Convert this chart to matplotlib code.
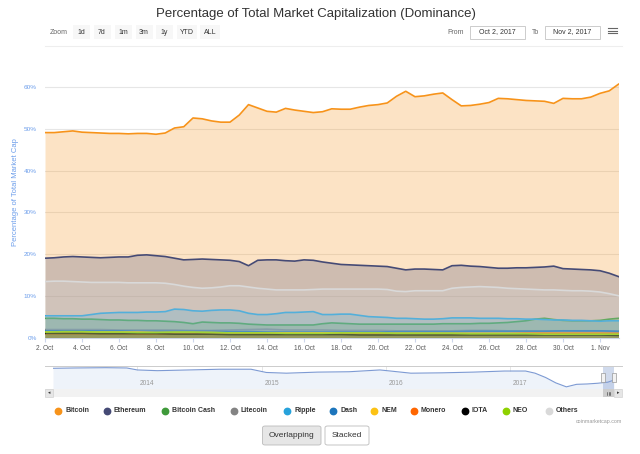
import numpy as np
import pandas as pd
import matplotlib
matplotlib.use('Agg')
import matplotlib.pyplot as plt
from matplotlib.patches import FancyBboxPatch, Rectangle
from matplotlib.lines import Line2D

plt.rcParams['font.family'] = ['Liberation Sans', 'DejaVu Sans']

# ---- data ----
half_day = pd.date_range('2017-10-02', '2017-11-02', freq='12h')
days = pd.date_range('2017-10-02', '2017-11-02', freq='D')

bitcoin = [49.1, 49.1, 49.3, 49.5, 49.2, 49.1, 49.0, 48.9, 48.9, 48.8, 48.9, 48.9, 48.7, 49.0,
           50.2, 50.5, 52.6, 52.4, 51.9, 51.6, 51.6, 53.3, 55.8, 55.0, 54.2, 54.0, 54.9, 54.5,
           54.2, 53.9, 54.1, 54.8, 54.7, 54.7, 55.2, 55.6, 55.8, 56.2, 57.8, 59.0, 57.7, 57.9,
           58.3, 58.6, 57.0, 55.5, 55.6, 55.9, 56.3, 57.3, 57.2, 57.0, 56.8, 56.7, 56.6, 56.1,
           57.3, 57.2, 57.2, 57.6, 58.5, 59.1, 60.7]
ethereum = [19.0, 19.1, 19.3, 19.4, 19.3, 19.2, 19.1, 19.2, 19.3, 19.3, 19.7, 19.8, 19.6, 19.4,
            19.0, 18.6, 18.7, 18.8, 18.7, 18.6, 18.5, 18.2, 17.2, 18.5, 18.6, 18.6, 18.4, 18.3,
            18.6, 18.5, 18.1, 17.8, 17.5, 17.4, 17.3, 17.2, 17.1, 17.0, 16.6, 16.2, 16.4, 16.4,
            16.3, 16.2, 17.2, 17.3, 17.1, 17.0, 16.8, 16.6, 16.6, 16.7, 16.7, 16.8, 16.9, 17.1,
            16.5, 16.4, 16.3, 16.2, 16.0, 15.4, 14.6]
others = [13.4, 13.5, 13.5, 13.4, 13.3, 13.2, 13.2, 13.2, 13.2, 13.1, 13.1, 13.1, 13.1, 13.0,
          12.7, 12.3, 12.0, 11.8, 11.9, 12.1, 12.4, 12.4, 12.1, 11.8, 11.6, 11.4, 11.4, 11.4,
          11.4, 11.5, 11.6, 11.6, 11.6, 11.6, 11.6, 11.6, 11.6, 11.5, 11.1, 11.0, 11.2, 11.2,
          11.2, 11.2, 11.8, 12.0, 12.1, 12.2, 12.1, 12.0, 11.8, 11.7, 11.6, 11.5, 11.4, 11.4,
          11.3, 11.2, 11.2, 11.1, 10.9, 10.5, 10.0]
ripple = [5.2, 5.2, 5.2, 5.2, 5.2, 5.5, 5.8, 5.9, 6.0, 6.0, 6.0, 6.1, 6.1, 6.2,
          6.8, 6.7, 6.4, 6.3, 6.5, 6.6, 6.6, 6.4, 5.8, 5.5, 5.5, 5.7, 6.0, 6.0,
          6.1, 6.2, 5.5, 5.5, 5.6, 5.6, 5.3, 5.0, 4.9, 4.8, 4.6, 4.6, 4.5, 4.4,
          4.4, 4.5, 4.7, 4.7, 4.7, 4.6, 4.6, 4.6, 4.5, 4.5, 4.4, 4.4, 4.3, 4.2,
          4.2, 4.1, 4.1, 4.0, 3.9, 4.0, 4.0]
bitcoin_cash = [4.6, 4.6, 4.5, 4.5, 4.4, 4.4, 4.3, 4.2, 4.2, 4.1, 4.1, 4.0, 4.0, 3.9,
                3.8, 3.6, 3.3, 3.7, 3.6, 3.5, 3.5, 3.4, 3.2, 3.1, 3.0, 3.0, 3.0, 3.0,
                3.0, 3.0, 3.3, 3.5, 3.4, 3.3, 3.2, 3.2, 3.2, 3.2, 3.2, 3.2, 3.2, 3.2,
                3.2, 3.3, 3.3, 3.3, 3.3, 3.4, 3.4, 3.5, 3.6, 3.8, 4.0, 4.4, 4.6, 4.3,
                4.1, 4.0, 4.0, 4.0, 4.1, 4.4, 4.6]
litecoin = [1.9, 1.9, 1.9, 1.9, 1.8, 1.8, 1.8, 1.8, 1.7, 1.7, 1.8, 1.9, 2.0, 1.8, 1.8, 1.8,
            1.7, 1.7, 1.7, 1.6, 1.6, 1.6, 1.6, 1.7, 1.7, 1.6, 1.6, 1.6, 1.6, 1.5, 1.5, 1.4]
dash = [1.6, 1.6, 1.6, 1.6, 1.6, 1.5, 1.5, 1.5, 1.5, 1.5, 1.4, 1.4, 1.3, 1.3, 1.3, 1.3,
        1.3, 1.3, 1.3, 1.4, 1.4, 1.4, 1.4, 1.5, 1.5, 1.5, 1.5, 1.5, 1.6, 1.6, 1.6, 1.5]
nem = [1.3, 1.3, 1.3, 1.3, 1.3, 1.3, 1.2, 1.2, 1.2, 1.2, 1.1, 1.1, 1.1, 1.1, 1.1, 1.1,
       1.1, 1.1, 1.0, 1.0, 1.0, 1.0, 1.0, 1.0, 1.0, 1.0, 1.0, 1.0, 1.0, 1.0, 1.0, 0.9]
monero = [0.9, 0.9, 0.9, 0.9, 0.9, 0.8, 0.8, 0.8, 0.8, 0.8, 0.8, 0.8, 0.8, 0.8, 0.8, 0.8,
          0.8, 0.9, 0.9, 0.9, 0.9, 0.9, 0.9, 0.9, 0.9, 0.9, 1.0, 1.0, 1.0, 1.0, 1.0, 1.0]
iota = [1.0, 1.0, 1.0, 0.9, 0.9, 0.9, 0.9, 0.8, 0.8, 0.8, 0.7, 0.7, 0.7, 0.7, 0.7, 0.7,
        0.7, 0.6, 0.6, 0.6, 0.6, 0.6, 0.6, 0.6, 0.6, 0.6, 0.6, 0.6, 0.6, 0.6, 0.6, 0.5]
neo = [1.3, 1.4, 1.4, 1.3, 1.3, 1.2, 1.2, 1.3, 1.3, 1.2, 1.1, 1.1, 1.1, 1.0, 1.0, 1.0,
       1.1, 1.1, 1.1, 1.0, 1.0, 1.0, 1.0, 0.9, 0.9, 0.9, 0.9, 0.8, 0.8, 0.8, 0.8, 0.8]

# navigator: bitcoin dominance, whole history
nav_dates = pd.to_datetime(['2013-04-28', '2013-07-01', '2013-10-01', '2013-12-01', '2014-01-01',
                            '2014-03-01', '2014-06-01', '2014-09-01', '2014-12-01', '2015-01-15',
                            '2015-03-15', '2015-06-15', '2015-09-15', '2015-12-15', '2016-01-15',
                            '2016-03-15', '2016-06-15', '2016-09-15', '2016-12-15', '2017-02-15',
                            '2017-03-15', '2017-04-15', '2017-05-15', '2017-06-15', '2017-07-15',
                            '2017-08-15', '2017-09-15', '2017-10-15', '2017-11-02'])
nav_values = [90.6, 91.5, 92.3, 91.5, 86, 84, 86, 88, 88, 79, 77, 80, 81, 86, 83, 77, 78, 80,
              83, 83, 77, 65, 50, 39, 46, 47, 49, 52, 58]

legend_names = ['Bitcoin', 'Ethereum', 'Bitcoin Cash', 'Litecoin', 'Ripple', 'Dash', 'NEM',
                'Monero', 'IOTA', 'NEO', 'Others']
legend_colors = ['#f7931a', '#454a75', '#3f9a3a', '#838383', '#27a2db', '#1c75bc', '#fcc214',
                 '#ff6600', '#000000', '#8ed100', '#d9d9d9']
zoom_buttons = ['1d', '7d', '1m', '3m', '1y', 'YTD', 'ALL']
year_ticks = pd.to_datetime(['2014-01-01', '2015-01-01', '2016-01-01', '2017-01-01'])

# ---- layout helpers (pixel -> figure fraction) ----
W, H = 640, 454


def fx(px):
    return px / W


def fy(py):
    return 1 - py / H


fig = plt.figure(figsize=(6.4, 4.54), dpi=100)

# ---- main chart ----
ax = fig.add_axes([fx(45), fy(337.5), fx(618.5) - fx(45), fy(75) - fy(337.5)])

series = [
    (half_day, bitcoin, legend_colors[0]),
    (half_day, ethereum, legend_colors[1]),
    (half_day, bitcoin_cash, legend_colors[2]),
    (days, litecoin, legend_colors[3]),
    (half_day, ripple, legend_colors[4]),
    (days, dash, legend_colors[5]),
    (days, nem, legend_colors[6]),
    (days, monero, legend_colors[7]),
    (days, iota, legend_colors[8]),
    (days, neo, legend_colors[9]),
    (half_day, others, legend_colors[10]),
]
for i, (t, vals, col) in enumerate(series):
    ax.fill_between(t, 0, vals, color=col, alpha=0.25, lw=0, zorder=2 + i)
    ax.plot(t, vals, color=col, lw=1.2, zorder=2 + i)

ax.set_xlim(days[0], days[-1])
ax.set_ylim(0, 62.9)
ax.set_yticks(range(0, 61, 10))
ax.set_yticklabels([f'{v}%' for v in range(0, 61, 10)])
xt = days[:-1:2]
ax.set_xticks(xt)
ax.set_xticklabels([f'{d.day}. {d.strftime("%b")}' for d in xt])
ax.grid(axis='y', color='#e6e6e6', lw=0.8, zorder=0)
for s in ['top', 'right', 'left']:
    ax.spines[s].set_visible(False)
ax.spines['bottom'].set_color('#ccd6eb')
ax.tick_params(axis='y', length=0, pad=6, labelsize=4.6, labelcolor='#6d9eeb')
ax.tick_params(axis='x', length=3, color='#ccd6eb', pad=2.5, labelsize=4.7, labelcolor='#555555')

fig.text(fx(16), fy(192), 'Percentage of Total Market Cap', rotation=90, ha='center', va='center',
         fontsize=5.5, color='#6d9eeb')

# ---- title and range selector ----
fig.text(fx(316), fy(14), 'Percentage of Total Market Capitalization (Dominance)', ha='center',
         va='center', fontsize=9.5, color='#333333')
fig.add_artist(Line2D([fx(45), fx(622)], [fy(45.5), fy(45.5)], color='#eeeeee', lw=0.8))

fig.text(fx(59), fy(32), 'Zoom', ha='center', va='center', fontsize=5, color='#666666')
btn_x = [81, 102, 123, 144, 164, 187, 210]
for lab, cx in zip(zoom_buttons, btn_x):
    w = 20 if len(lab) == 3 else 17
    fig.add_artist(Rectangle((fx(cx - w / 2), fy(39)), fx(w), fy(25) - fy(39),
                             facecolor='#f7f7f7', edgecolor='none', transform=fig.transFigure))
    fig.text(fx(cx), fy(32), lab, ha='center', va='center', fontsize=5, color='#333333')

fig.text(fx(456), fy(32), 'From', ha='center', va='center', fontsize=5, color='#666666')
fig.text(fx(536), fy(32), 'To', ha='center', va='center', fontsize=5, color='#666666')
for x0, x1, lab in [(470, 525, 'Oct 2, 2017'), (545, 600, 'Nov 2, 2017')]:
    fig.add_artist(Rectangle((fx(x0), fy(38.5)), fx(x1 - x0), fy(25.5) - fy(38.5),
                             facecolor='white', edgecolor='#cccccc', lw=0.7,
                             transform=fig.transFigure))
    fig.text(fx((x0 + x1) / 2), fy(32), lab, ha='center', va='center', fontsize=5,
             color='#333333')
for yy in [28, 30.5, 33]:
    fig.add_artist(Line2D([fx(608), fx(617)], [fy(yy), fy(yy)], color='#666666', lw=0.8))

# ---- navigator ----
nav = fig.add_axes([fx(53), fy(389), fx(614) - fx(53), fy(366) - fy(389)])
nav.fill_between(nav_dates, 33, nav_values, color='#eef3fa', lw=0)
nav.plot(nav_dates, nav_values, color='#7d9ad3', lw=0.8)
nav.set_xlim(nav_dates[0], nav_dates[-1])
nav.set_ylim(33, 97)
for yt in year_ticks:
    nav.axvline(yt, color='#e6e6e6', lw=0.7, zorder=0)
    nav.text(yt + pd.Timedelta(days=8), 48, str(yt.year), fontsize=4.8, color='#999999',
             va='center', ha='left')
nav.axvspan(days[0], days[-1], color='#6685c2', alpha=0.3, lw=0)
nav.axis('off')
fig.add_artist(Line2D([fx(45), fx(622)], [fy(366), fy(366)], color='#cccccc', lw=0.7))
for hx in [602.5, 613.5]:
    fig.add_artist(Rectangle((fx(hx - 2), fy(382)), fx(4), fy(373) - fy(382),
                             facecolor='#f2f2f2', edgecolor='#999999', lw=0.5,
                             transform=fig.transFigure))

# scrollbar
fig.add_artist(Rectangle((fx(45), fy(397)), fx(577), fy(389) - fy(397), facecolor='#f2f2f2',
                         edgecolor='none', transform=fig.transFigure))
for x0 in [45, 614]:
    fig.add_artist(Rectangle((fx(x0), fy(397)), fx(8), fy(389) - fy(397), facecolor='#e6e6e6',
                             edgecolor='#cccccc', lw=0.4, transform=fig.transFigure))
fig.text(fx(49), fy(393), '\u25c2', ha='center', va='center', fontsize=3.5, color='#333333')
fig.text(fx(618), fy(393), '\u25b8', ha='center', va='center', fontsize=3.5, color='#333333')
fig.add_artist(Rectangle((fx(603), fy(397)), fx(11), fy(389) - fy(397), facecolor='#cccccc',
                         edgecolor='none', transform=fig.transFigure))
for gx in [607, 608.5, 610]:
    fig.add_artist(Line2D([fx(gx), fx(gx)], [fy(391.5), fy(394.5)], color='#333333', lw=0.4))

# ---- legend ----
dot_x = [58.3, 106.7, 165.3, 233.8, 287.2, 333.1, 374.2, 413.5, 464.8, 505.8, 548.5]
for name, col, dx in zip(legend_names, legend_colors, dot_x):
    fig.add_artist(Line2D([fx(dx)], [fy(411)], marker='o', markersize=4.6, color=col, lw=0))
    fig.text(fx(dx + 7), fy(411), name, ha='left', va='center', fontsize=5, fontweight='bold',
             color='#333333')
fig.text(fx(622), fy(421), 'coinmarketcap.com', ha='right', va='center', fontsize=3.8,
         color='#999999')

# ---- mode buttons ----
for x0, x1, lab, face in [(262.5, 321, 'Overlapping', '#e6e6e6'), (325, 369, 'Stacked', 'white')]:
    fig.add_artist(FancyBboxPatch((fx(x0), fy(445)), fx(x1 - x0), fy(426) - fy(445),
                                  boxstyle='round,pad=0,rounding_size=0.004', facecolor=face,
                                  edgecolor='#bbbbbb', lw=0.6, transform=fig.transFigure))
    fig.text(fx((x0 + x1) / 2), fy(435.5), lab, ha='center', va='center', fontsize=6,
             color='#333333')

fig.savefig('out.png', dpi=100)
